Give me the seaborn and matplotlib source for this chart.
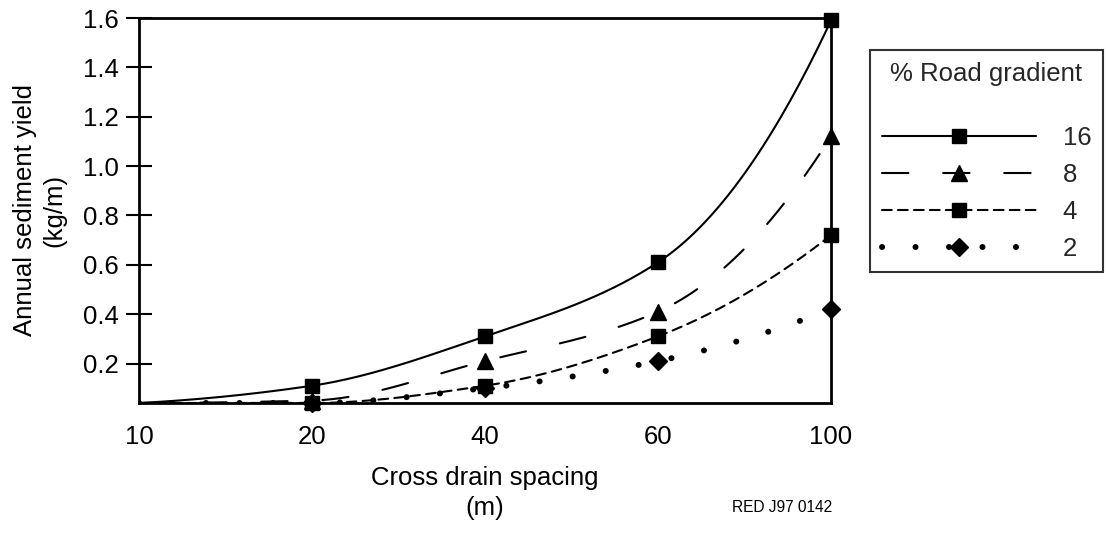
import numpy as np
import pandas as pd
import seaborn as sns
import matplotlib.pyplot as plt
from matplotlib.lines import Line2D

# valeurs
spacing_labels = ['10', '20', '40', '60', '100']
grad_16 = [0.04, 0.11, 0.31, 0.61, 1.59]
grad_8 = [0.04, 0.05, 0.21, 0.41, 1.12]
grad_4 = [0.04, 0.04, 0.11, 0.31, 0.72]
grad_2 = [0.04, 0.04, 0.10, 0.21, 0.42]
series_names = ['16', '8', '4', '2']
y_ticks = [0.2, 0.4, 0.6, 0.8, 1.0, 1.2, 1.4, 1.6]

sns.set_theme(style='white')
plt.rcParams['font.family'] = ['Liberation Sans', 'DejaVu Sans']
plt.rcParams['lines.scale_dashes'] = False

FS = 18.5


# courbe lissee (hermite monotone) entre les points lus
def lisse(vals, n=60):
    y = np.array(vals, dtype=float)
    s = np.diff(y)
    m = np.zeros(len(y))
    for i in range(1, len(y) - 1):
        if s[i - 1] > 0 and s[i] > 0:
            m[i] = 2 / (1 / s[i - 1] + 1 / s[i])
    m[0] = max(2 * s[0] - m[1], 0)
    m[-1] = max(2 * s[-1] - m[-2], 0)
    xs, ys = [], []
    for i in range(len(y) - 1):
        t = np.linspace(0, 1, n)
        h00 = 2 * t**3 - 3 * t**2 + 1
        h10 = t**3 - 2 * t**2 + t
        h01 = -2 * t**3 + 3 * t**2
        h11 = t**3 - t**2
        xs.extend(i + t)
        ys.extend(h00 * y[i] + h10 * m[i] + h01 * y[i + 1] + h11 * m[i + 1])
    return np.array(xs), np.array(ys)


styles = {
    '16': dict(ls='-', marker='s', ms=10.5, z=5, lw=1.5),
    '8': dict(ls=(0, (19, 25)), marker='^', ms=11, z=4, lw=1.5),
    '4': dict(ls=(0, (7, 4.5)), marker='s', ms=10.5, z=6, lw=1.5),
    '2': dict(ls=(0, (0.1, 24)), marker='D', ms=9, z=3, lw=4.3),
}
data = {'16': grad_16, '8': grad_8, '4': grad_4, '2': grad_2}

fig = plt.figure(figsize=(11.06, 5.33), dpi=100)
ax = fig.add_axes([139 / 1106, 1 - 403 / 533, (831 - 139) / 1106, (403 - 18) / 533])

handles = []
for name in series_names:
    st = styles[name]
    xs, ys = lisse(data[name])
    sns.lineplot(x=xs, y=ys, ax=ax, color='black', linewidth=st['lw'], linestyle=st['ls'],
                 sort=False, estimator=None, zorder=2, dash_capstyle='round')
    pts = pd.DataFrame({'x': np.arange(1, len(spacing_labels)), 'y': data[name][1:]})
    ax.plot(pts['x'], pts['y'], linestyle='none', marker=st['marker'], markersize=st['ms'],
            color='black', zorder=st['z'], clip_on=False)
    handles.append(Line2D([], [], color='black', linewidth=st['lw'], linestyle=st['ls'],
                          marker=st['marker'], markersize=st['ms'], dash_capstyle='round'))

ax.set_xlim(0, len(spacing_labels) - 1)
ax.set_ylim(0.04, 1.6)
ax.set_xticks(range(len(spacing_labels)))
ax.set_xticklabels(spacing_labels)
ax.set_yticks(y_ticks)
ax.set_yticklabels(['%.1f' % v for v in y_ticks])
ax.tick_params(axis='x', length=0, pad=16, labelsize=FS, colors='black')
ax.tick_params(axis='y', direction='inout', length=19, width=1.5, pad=5, labelsize=FS,
               colors='black', left=True)
for sp in ax.spines.values():
    sp.set_color('black')
    sp.set_linewidth(2)
    sp.set_visible(True)

ax.set_xlabel('Cross drain spacing\n(m)', fontsize=FS, color='black', labelpad=12,
              linespacing=1.3)
ax.set_ylabel('Annual sediment yield\n(kg/m)', fontsize=FS, color='black', labelpad=12,
              linespacing=1.3)

leg = fig.legend(handles, series_names, title='% Road gradient\n', loc='upper left',
                 bbox_to_anchor=(870 / 1106, 1 - 50 / 533), fontsize=FS, title_fontsize=FS,
                 frameon=True, fancybox=False, edgecolor='black', handlelength=6.0,
                 handletextpad=1.05, labelspacing=0.5, borderpad=0.45, borderaxespad=0)
leg.get_frame().set_linewidth(1.5)

fig.text(732 / 1106, 1 - 507 / 533, 'RED J97 0142', fontsize=11.2, va='center', color='black')

fig.savefig('out.png', dpi=100)
